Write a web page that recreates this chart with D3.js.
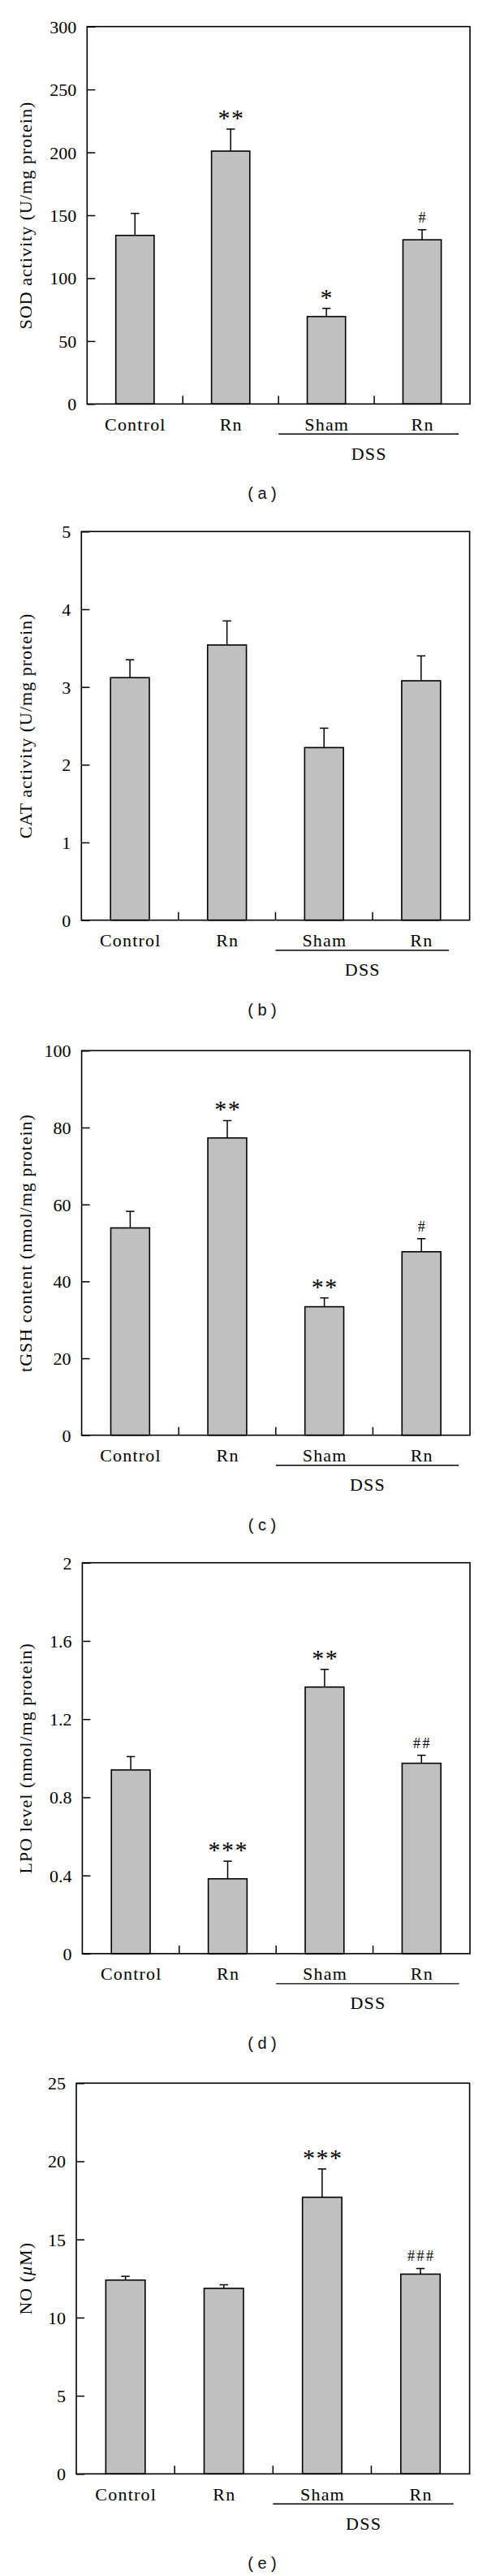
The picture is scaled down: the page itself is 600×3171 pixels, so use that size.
<!DOCTYPE html>
<html>
<head>
<meta charset="utf-8">
<script src="https://cdn.jsdelivr.net/npm/d3@7"></script>
<style>
  html, body { margin: 0; padding: 0; background: #fff; }
  svg { display: block; }
</style>
</head>
<body>
<script>
// ---------- data ----------
const categories = ["Control", "Rn", "Sham", "Rn"];
const groupLabel = "DSS";

const sodMean = [134, 201, 69.5, 130.5];
const sodErr  = [17.5, 17.5, 6.5, 8];
const sodMarks = ["", "**", "*", "#"];
const sodTicks = [0, 50, 100, 150, 200, 250, 300];

const catMean = [3.12, 3.54, 2.22, 3.08];
const catErr  = [0.23, 0.31, 0.25, 0.32];
const catMarks = ["", "", "", ""];
const catTicks = [0, 1, 2, 3, 4, 5];

const gshMean = [53.9, 77.3, 33.4, 47.7];
const gshErr  = [4.3, 4.5, 2.3, 3.4];
const gshMarks = ["", "**", "**", "#"];
const gshTicks = [0, 20, 40, 60, 80, 100];

const lpoMean = [0.94, 0.383, 1.364, 0.974];
const lpoErr  = [0.068, 0.09, 0.09, 0.041];
const lpoMarks = ["", "***", "**", "##"];
const lpoTicks = [0, 0.4, 0.8, 1.2, 1.6, 2];

const noMean = [12.40, 11.87, 17.70, 12.78];
const noErr  = [0.24, 0.23, 1.81, 0.36];
const noMarks = ["", "", "***", "###"];
const noTicks = [0, 5, 10, 15, 20, 25];

const panels = [
  { id: "a", title: ["SOD activity (U/mg protein)"], mean: sodMean, err: sodErr, marks: sodMarks, ticks: sodTicks },
  { id: "b", title: ["CAT activity (U/mg protein)"], mean: catMean, err: catErr, marks: catMarks, ticks: catTicks },
  { id: "c", title: ["tGSH content (nmol/mg protein)"], mean: gshMean, err: gshErr, marks: gshMarks, ticks: gshTicks },
  { id: "d", title: ["LPO level (nmol/mg protein)"], mean: lpoMean, err: lpoErr, marks: lpoMarks, ticks: lpoTicks },
  { id: "e", title: ["NO (", "μ", "M)"], mean: noMean, err: noErr, marks: noMarks, ticks: noTicks }
];

// ---------- layout (pixel geometry, separate from data) ----------
const layout = [
  { top: 32.7,   bottom: 497.3,  left: 107.3, right: 579,   dssEnd: 565 },
  { top: 654.3,  bottom: 1132.7, left: 100.3, right: 578.6, dssEnd: 553 },
  { top: 1293.3, bottom: 1766.7, left: 100.6, right: 579,   dssEnd: 565 },
  { top: 1923.7, bottom: 2404.9, left: 101.4, right: 579,   dssEnd: 565.6 },
  { top: 2564.3, bottom: 3045.3, left: 94,    right: 578.6, dssEnd: 558.7 }
];

const W = 600, H = 3171;
const serif = "'Liberation Serif', 'Times New Roman', serif";
const sans = "'Liberation Sans', Arial, sans-serif";

const svg = d3.select("body").append("svg")
  .attr("width", W).attr("height", H)
  .attr("viewBox", `0 0 ${W} ${H}`);

panels.forEach((p, pi) => {
  const L = layout[pi];
  const g = svg.append("g").attr("class", "panel-" + p.id);

  const x = d3.scaleBand()
    .domain(d3.range(categories.length))
    .range([L.left, L.right])
    .paddingInner(0.6)
    .paddingOuter(0.3);

  const yMax = p.ticks[p.ticks.length - 1];
  const y = d3.scaleLinear().domain([0, yMax]).range([L.bottom, L.top]);

  // bars
  g.selectAll("rect.bar").data(p.mean).join("rect")
    .attr("class", "bar")
    .attr("x", (d, i) => x(i))
    .attr("y", d => y(d))
    .attr("width", x.bandwidth())
    .attr("height", d => y(0) - y(d))
    .attr("fill", "#c0c0c0")
    .attr("stroke", "#000")
    .attr("stroke-width", 1.6);

  // error bars (upper only)
  const eb = g.selectAll("g.err").data(p.mean).join("g").attr("class", "err");
  eb.append("line")
    .attr("x1", (d, i) => x(i) + x.bandwidth() / 2)
    .attr("x2", (d, i) => x(i) + x.bandwidth() / 2)
    .attr("y1", d => y(d))
    .attr("y2", (d, i) => y(d + p.err[i]))
    .attr("stroke", "#000").attr("stroke-width", 1.5);
  eb.append("line")
    .attr("x1", (d, i) => x(i) + x.bandwidth() / 2 - 5.2)
    .attr("x2", (d, i) => x(i) + x.bandwidth() / 2 + 5.2)
    .attr("y1", (d, i) => y(d + p.err[i]))
    .attr("y2", (d, i) => y(d + p.err[i]))
    .attr("stroke", "#000").attr("stroke-width", 1.5);

  // significance marks
  g.selectAll("text.mark").data(p.marks).join("text")
    .attr("class", "mark")
    .attr("x", (d, i) => x(i) + x.bandwidth() / 2 + (d.startsWith("*") ? 0.75 : 1.25))
    .attr("y", (d, i) => y(p.mean[i] + p.err[i]) - (d.startsWith("*") ? 4 : 9))
    .attr("text-anchor", "middle")
    .attr("font-family", serif)
    .attr("font-size", d => d.startsWith("*") ? 30 : 18)
    .attr("letter-spacing", d => d.startsWith("*") ? 1.5 : 2.5)
    .attr("fill", "#000")
    .text(d => d);

  // y axis (inward ticks)
  const yAxis = d3.axisRight(y).tickValues(p.ticks).tickSize(10).tickFormat(d3.format("~g"));
  const ya = g.append("g").attr("transform", `translate(${L.left},0)`).call(yAxis);
  ya.select(".domain").remove();
  ya.selectAll(".tick line").attr("stroke", "#000").attr("stroke-width", 1.5);
  ya.selectAll(".tick text")
    .attr("x", -13)
    .attr("text-anchor", "end")
    .attr("dy", "0.34em")
    .attr("font-family", serif)
    .attr("font-size", 22)
    .attr("fill", "#000");

  // frame
  g.append("rect")
    .attr("x", L.left).attr("y", L.top)
    .attr("width", L.right - L.left).attr("height", L.bottom - L.top)
    .attr("fill", "none").attr("stroke", "#000").attr("stroke-width", 1.6);

  // x separator ticks (inward, between bands)
  const seps = d3.range(1, categories.length).map(i => L.left + x.step() * i);
  g.selectAll("line.sep").data(seps).join("line")
    .attr("class", "sep")
    .attr("x1", d => d).attr("x2", d => d)
    .attr("y1", L.bottom).attr("y2", L.bottom - 10)
    .attr("stroke", "#000").attr("stroke-width", 1.5);

  // category labels
  g.selectAll("text.cat").data(categories).join("text")
    .attr("class", "cat")
    .attr("x", (d, i) => x(i) + x.bandwidth() / 2 + 0.6)
    .attr("y", L.bottom + 32.5)
    .attr("text-anchor", "middle")
    .attr("font-family", serif)
    .attr("font-size", 22)
    .attr("letter-spacing", 1.2)
    .attr("fill", "#000")
    .text(d => d);

  // DSS group line and label
  const lineStart = seps[1];
  g.append("line")
    .attr("x1", lineStart).attr("x2", L.dssEnd)
    .attr("y1", L.bottom + 37).attr("y2", L.bottom + 37)
    .attr("stroke", "#000").attr("stroke-width", 1.4);
  g.append("text")
    .attr("x", (lineStart + L.dssEnd) / 2 + 0.6)
    .attr("y", L.bottom + 68.5)
    .attr("text-anchor", "middle")
    .attr("font-family", serif)
    .attr("font-size", 22)
    .attr("letter-spacing", 1.2)
    .attr("fill", "#000")
    .text(groupLabel);

  // y axis title
  const cy = (L.top + L.bottom) / 2;
  const t = g.append("text")
    .attr("transform", `translate(38.5,${cy}) rotate(-90)`)
    .attr("text-anchor", "middle")
    .attr("font-family", serif)
    .attr("font-size", 22)
    .attr("letter-spacing", 1)
    .attr("fill", "#000");
  if (p.title.length === 1) {
    t.text(p.title[0]);
  } else {
    t.append("tspan").text(p.title[0]);
    t.append("tspan").attr("font-style", "italic").text(p.title[1]);
    t.append("tspan").text(p.title[2]);
  }

  // sub-caption
  g.append("text")
    .attr("x", 323)
    .attr("y", L.bottom + 110)
    .attr("dy", "0.35em")
    .attr("text-anchor", "middle")
    .attr("font-family", sans)
    .attr("font-size", 20)
    .attr("fill", "#111")
    .attr("xml:space", "preserve")
    .style("white-space", "pre")
    .text("( " + p.id + " )");
});
</script>
</body>
</html>
